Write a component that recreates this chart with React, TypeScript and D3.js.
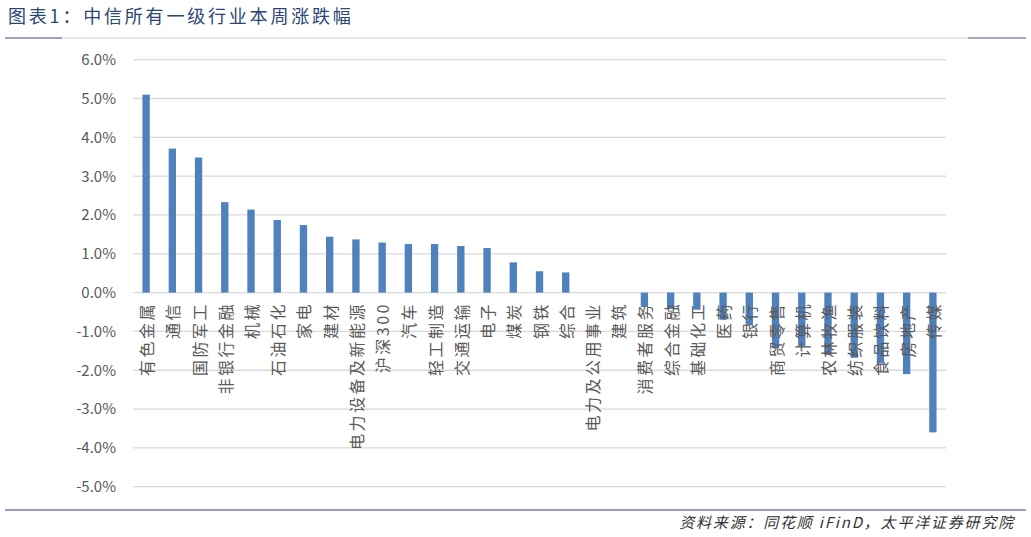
import * as d3 from 'd3'

const categories = [
    '有色金属', '通信', '国防军工', '非银行金融', '机械', '石油石化', '家电', '建材',
    '电力设备及新能源', '沪深300', '汽车', '轻工制造', '交通运输', '电子', '煤炭', '钢铁',
    '综合', '电力及公用事业', '建筑', '消费者服务', '综合金融', '基础化工', '医药', '银行',
    '商贸零售', '计算机', '农林牧渔', '纺织服装', '食品饮料', '房地产', '传媒',
]
const changes = [
    5.1, 3.71, 3.48, 2.33, 2.14, 1.87, 1.74, 1.44,
    1.37, 1.29, 1.25, 1.25, 1.2, 1.15, 0.78, 0.55,
    0.52, 0.0, 0.0, -0.37, -0.4, -0.44, -0.7, -0.83,
    -1.43, -1.38, -1.6, -1.68, -1.81, -2.1, -3.6,
]
const yTicks = [6, 5, 4, 3, 2, 1, 0, -1, -2, -3, -4, -5]

const title = '图表1：中信所有一级行业本周涨跌幅'
const source = '资料来源：同花顺 iFinD，太平洋证券研究院'

const font = '"Noto Sans CJK SC", "Noto Sans", sans-serif'

export default function App() {
    const width = 1031
    const height = 537

    const x = d3.scaleBand<string>().domain(categories).range([133, 946]).paddingInner(0.72).paddingOuter(0.36)
    const y = d3.scaleLinear().domain([-5, 6]).range([486.7, 59.7])

    return (
        <svg
            width={width}
            height={height}
            style={{ position: 'absolute', left: 0, top: 0, background: '#fff' }}
            fontFamily={font}
        >
            <text x={8} y={23} fill="#2b4677" fontSize={18} letterSpacing={2.8}>
                {title}
            </text>
            <line x1={5} x2={968} y1={38} y2={38} stroke="#d0cde0" strokeWidth={1} />
            <line x1={5} x2={62} y1={38} y2={38} stroke="#8a8ab0" strokeWidth={1.5} />
            <line x1={968} x2={1026} y1={38} y2={38} stroke="#8a8ab0" strokeWidth={1.5} />

            {yTicks.map((t) => (
                <g key={t}>
                    <line x1={133} x2={946} y1={y(t)} y2={y(t)} stroke="#d9d9d9" strokeWidth={1.3} />
                    <text x={116} y={y(t)} dy="0.36em" textAnchor="end" fill="#595959" fontSize={15}>
                        {t.toFixed(1) + '%'}
                    </text>
                </g>
            ))}

            {categories.map((c, i) => (
                <rect
                    key={c}
                    x={x(c)}
                    width={x.bandwidth()}
                    y={y(Math.max(0, changes[i]))}
                    height={Math.abs(y(changes[i]) - y(0))}
                    fill="#4f81bd"
                />
            ))}

            {categories.map((c) => (
                <text
                    key={c}
                    transform={`translate(${(x(c) as number) + x.bandwidth() / 2 + 7}, 302) rotate(-90)`}
                    textAnchor="end"
                    fill="#595959"
                    fontSize={16}
                    letterSpacing={2.5}
                >
                    {c}
                </text>
            ))}

            <line x1={5} x2={1026} y1={510} y2={510} stroke="#7b7ba8" strokeWidth={1.5} />
            <text x={1015} y={528} textAnchor="end" fill="#333" fontSize={15} fontStyle="italic" letterSpacing={1.8}>
                {source}
            </text>
        </svg>
    )
}
